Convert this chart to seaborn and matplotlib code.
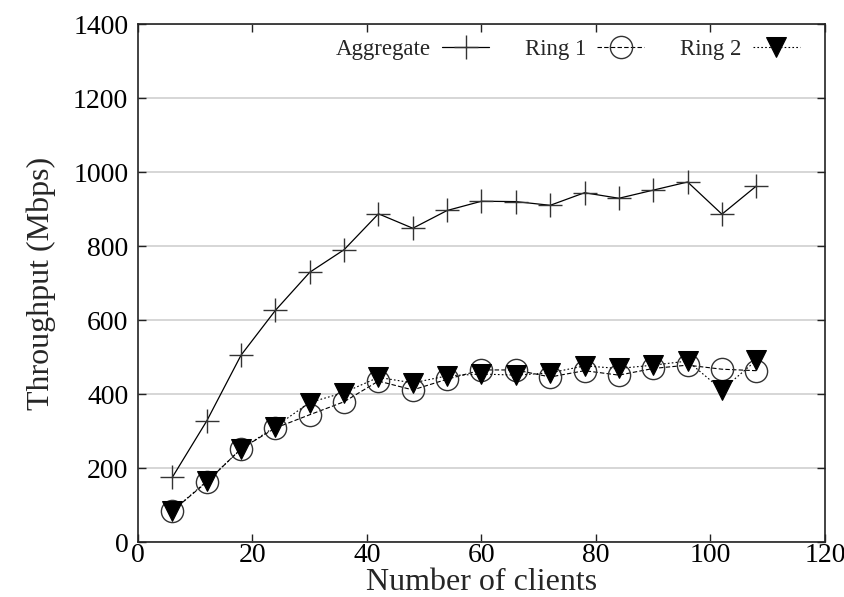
import matplotlib
matplotlib.use("Agg")
import matplotlib.pyplot as plt
import seaborn as sns
import pandas as pd

clients = [6, 12, 18, 24, 30, 36, 42, 48, 54, 60, 66, 72, 78, 84, 90, 96, 102, 108]
aggregate = [175, 327, 505, 626, 729, 790, 887, 848, 896, 921, 920, 910, 944, 929, 951, 973, 886, 962]
ring1 = [84, 162, 252, 308, 344, 379, 435, 411, 440, 465, 465, 446, 463, 451, 469, 478, 467, 463]
ring2 = [84, 164, 251, 312, 377, 404, 445, 430, 449, 454, 451, 457, 476, 469, 478, 489, 411, 491]

sns.set_theme(style="white")
plt.rcParams['font.family'] = ['Liberation Serif', 'DejaVu Serif']

fig = plt.figure(figsize=(8.45, 5.97), dpi=100)
ax = fig.add_axes([138/845, 1 - 542/597, (825-138)/845, (542-24)/597])

df = pd.DataFrame({"clients": clients, "Aggregate": aggregate, "Ring 1": ring1, "Ring 2": ring2})

sns.lineplot(data=df, x="clients", y="Aggregate", ax=ax, color="black", linestyle="-",
             linewidth=0.9, marker="+", markersize=17, markeredgewidth=1.0,
             markeredgecolor="#333333", label="Aggregate")
sns.lineplot(data=df, x="clients", y="Ring 1", ax=ax, color="black", linestyle=(0, (4, 2)),
             linewidth=0.8, marker="o", markersize=16, markerfacecolor="none",
             markeredgewidth=1.0, markeredgecolor="#333333", label="Ring 1")
sns.lineplot(data=df, x="clients", y="Ring 2", ax=ax, color="black", linestyle=(0, (1.5, 2)),
             linewidth=0.8, marker="v", markersize=14, markerfacecolor="black",
             markeredgecolor="black", label="Ring 2")

ax.set_xlim(0, 120)
ax.set_ylim(0, 1400)
ax.set_xticks(range(0, 121, 20))
ax.set_yticks(range(0, 1401, 200))
ax.yaxis.grid(True, color="#d0d0d0", linewidth=1.2)
ax.xaxis.grid(False)
ax.set_axisbelow(True)
ax.tick_params(axis="both", direction="in", length=6, width=1, labelsize=20,
               top=True, right=True, bottom=True, left=True, colors="#222222")
ax.tick_params(axis="x", pad=0.5)
ax.tick_params(axis="y", pad=7)
ax.tick_params(axis="both", labelcolor="black")
for s in ax.spines.values():
    s.set_color("#222222")
    s.set_linewidth(1.2)

ax.set_xlabel("Number of clients", fontsize=23, labelpad=0.5)
ax.set_ylabel("Throughput (Mbps)", fontsize=23, labelpad=12)

leg = ax.legend(loc="upper right", ncol=3, frameon=False, markerfirst=False,
                fontsize=16.5, handlelength=2.05, columnspacing=1.55, handletextpad=0.5,
                borderaxespad=0.25, bbox_to_anchor=(0.985, 1.0))

fig.savefig("out.png", dpi=100)
